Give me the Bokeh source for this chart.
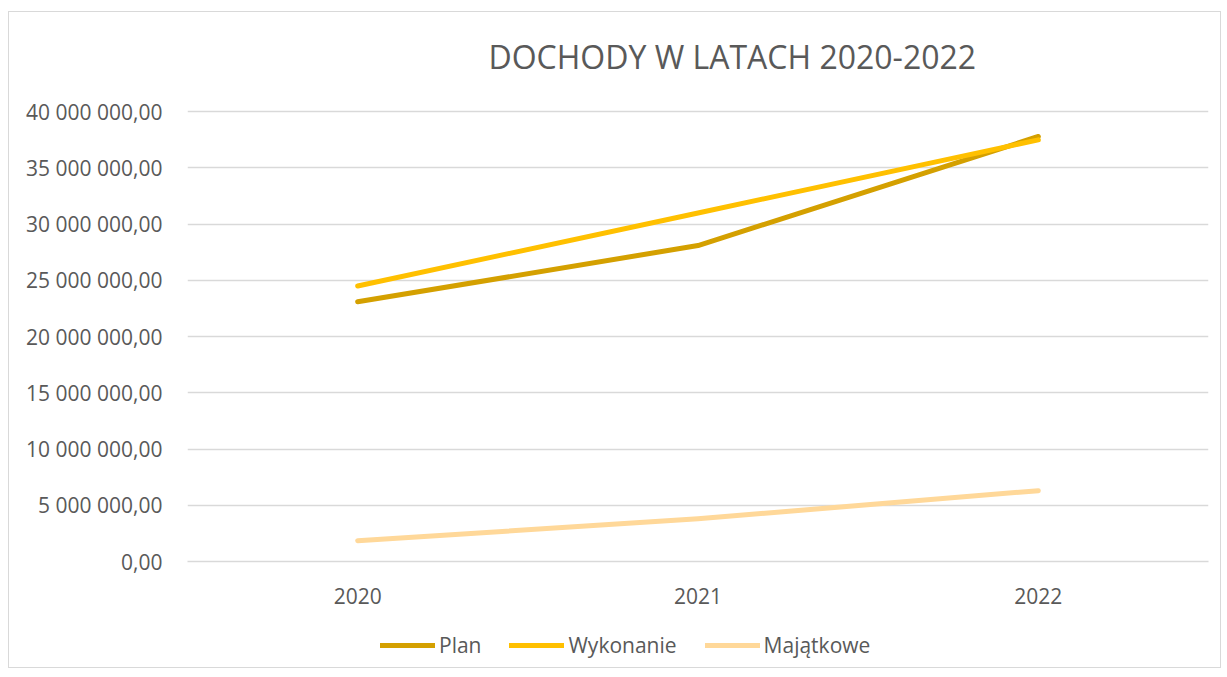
from bokeh.plotting import figure
from bokeh.layouts import column
from bokeh.models import FactorRange, Range1d, FixedTicker, Legend, LegendItem, Label
from bokeh.embed import file_html
from bokeh.resources import INLINE

years = ["2020", "2021", "2022"]
plan = [23_100_000, 28_100_000, 37_800_000]
wykonanie = [24_500_000, 31_000_000, 37_500_000]
majatkowe = [1_850_000, 3_800_000, 6_300_000]
series_names = ["Plan", "Wykonanie", "Majątkowe"]
series_colors = ["#D4A000", "#FFC000", "#FFD899"]
y_ticks = [0, 5_000_000, 10_000_000, 15_000_000, 20_000_000, 25_000_000, 30_000_000, 35_000_000, 40_000_000]
y_tick_labels = ["0,00", "5 000 000,00", "10 000 000,00", "15 000 000,00", "20 000 000,00",
                 "25 000 000,00", "30 000 000,00", "35 000 000,00", "40 000 000,00"]
title_text = "DOCHODY W LATACH 2020-2022"

FONT = "Open Sans"
GREY = "#595959"

# title strip
p0 = figure(width=1211, height=77, x_range=Range1d(0, 1), y_range=Range1d(0, 1),
            x_axis_type=None, y_axis_type=None, min_border=0,
            output_backend="svg", toolbar_location=None, title=None)
p0.outline_line_color = None
p0.grid.grid_line_color = None
p0.add_layout(Label(x=301, y=33, x_units="screen", y_units="screen", text=title_text,
                    text_font=FONT, text_font_size="32px", text_color=GREY,
                    text_baseline="alphabetic", text_align="left"))

p = figure(x_range=FactorRange(*years, range_padding=0), y_range=Range1d(0, 40_200_000),
           width=1211, height=526,
           min_border_left=178, min_border_right=12, min_border_top=20, min_border_bottom=54,
           output_backend="svg", toolbar_location=None, title=None)
p.outline_line_color = None

p.yaxis.ticker = FixedTicker(ticks=y_ticks)
p.yaxis.major_label_overrides = {t_: l for t_, l in zip(y_ticks, y_tick_labels)}
p.yaxis.axis_line_color = None
p.yaxis.major_tick_line_color = None
p.yaxis.minor_tick_line_color = None
p.yaxis.major_label_text_font = FONT
p.yaxis.major_label_text_font_size = "21px"
p.yaxis.major_label_text_color = GREY
p.yaxis.major_label_standoff = 19

p.xaxis.axis_line_color = "#D9D9D9"
p.xaxis.axis_line_width = 1.5
p.xaxis.major_tick_line_color = None
p.xaxis.minor_tick_line_color = None
p.xaxis.major_label_text_font = FONT
p.xaxis.major_label_text_font_size = "21px"
p.xaxis.major_label_text_color = GREY
p.xaxis.major_label_standoff = 20

p.xgrid.grid_line_color = None
p.ygrid.grid_line_color = "#D9D9D9"
p.ygrid.grid_line_width = 1.5

for name, vals, col in zip(series_names, [plan, wykonanie, majatkowe], series_colors):
    p.line(years, vals, line_color=col, line_width=5, line_cap="round", line_join="round")

# legend strip below the chart
p2 = figure(width=1211, height=52, x_range=Range1d(0, 1), y_range=Range1d(0, 1),
            x_axis_type=None, y_axis_type=None, min_border=0,
            output_backend="svg", toolbar_location=None, title=None)
p2.outline_line_color = None
p2.grid.grid_line_color = None
items = []
for name, col in zip(series_names, series_colors):
    r = p2.line([-10, -9], [-10, -9], line_color=col, line_width=5, line_cap="round")
    items.append(LegendItem(label=name, renderers=[r]))
legend = Legend(items=items, orientation="horizontal", location=(193, 8),
                label_text_font=FONT, label_text_font_size="21px", label_text_color=GREY,
                glyph_width=55, glyph_height=24, label_standoff=4, spacing=28,
                border_line_color=None, background_fill_alpha=0, margin=0, padding=0)
p2.add_layout(legend, "center")

layout = column(p0, p, p2, spacing=0)
layout.styles = {"border": "1px solid #D9D9D9", "margin-left": "8px", "margin-top": "11px"}

open("out.html", "w").write(file_html(layout, INLINE))
